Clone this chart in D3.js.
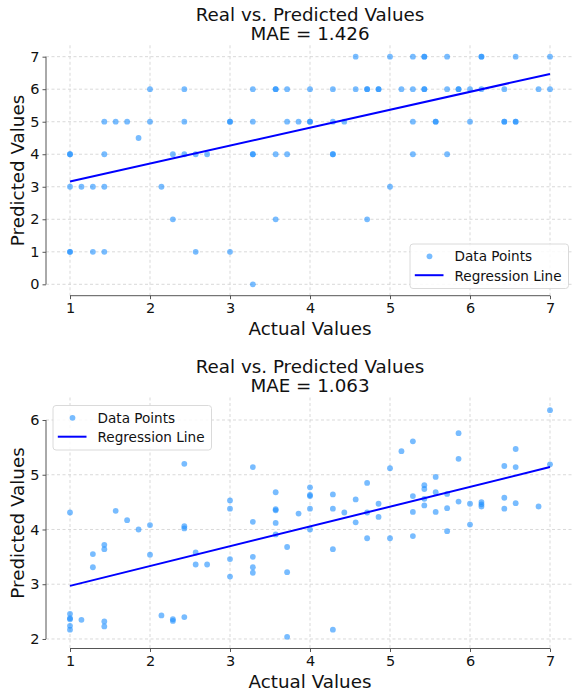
<!DOCTYPE html>
<html>
<head>
<meta charset="utf-8">
<script src="https://cdn.jsdelivr.net/npm/d3@7"></script>
<style>
  html, body { margin: 0; padding: 0; background: #fff; }
  svg { display: block; font-family: "DejaVu Sans", sans-serif; }
</style>
</head>
<body>
<svg id="chart" width="574" height="698"></svg>
<script>
// ---------- DATA ----------
const xTicks = [1, 2, 3, 4, 5, 6, 7];
const yTicksTop = [0, 1, 2, 3, 4, 5, 6, 7];
const yTicksBottom = [2, 3, 4, 5, 6];

const titleText = "Real vs. Predicted Values";
const maeTop = "MAE = 1.426";
const maeBottom = "MAE = 1.063";
const xLabel = "Actual Values";
const yLabel = "Predicted Values";
const legendLabels = ["Data Points", "Regression Line"];

// Top panel: actual values and predicted values (paired)
const actualTop = [
  1.000, 1.000, 1.000, 1.000, 1.000,
  1.143,
  1.286, 1.286,
  1.429, 1.429, 1.429, 1.429,
  1.571, 1.714, 1.857,
  2.000, 2.000,
  2.143,
  2.286, 2.286,
  2.429, 2.429, 2.429,
  2.571, 2.571,
  2.714,
  3.000, 3.000, 3.000,
  3.286, 3.286, 3.286, 3.286, 3.286,
  3.571, 3.571, 3.571, 3.571,
  3.714, 3.714, 3.714,
  3.857,
  4.000, 4.000, 4.000,
  4.286, 4.286, 4.286, 4.286,
  4.429,
  4.571, 4.571,
  4.714, 4.714, 4.714,
  4.857, 4.857,
  5.000, 5.000,
  5.143,
  5.286, 5.286, 5.286, 5.286,
  5.429, 5.429, 5.429, 5.429,
  5.571, 5.571,
  5.714, 5.714, 5.714,
  5.857, 5.857,
  6.000, 6.000,
  6.143, 6.143, 6.143,
  6.429, 6.429, 6.429,
  6.571, 6.571, 6.571,
  6.857,
  7.000, 7.000
];
const predictedTop = [
  4, 4, 3, 1, 1,
  3,
  3, 1,
  5, 4, 3, 1,
  5, 5, 4.5,
  6, 5,
  3,
  4, 2,
  6, 5, 4,
  4, 1,
  4,
  5, 5, 1,
  6, 5, 4, 4, 0,
  6, 6, 4, 2,
  6, 5, 4,
  5,
  6, 5, 5,
  6, 5, 4, 4,
  5,
  7, 6,
  6, 6, 2,
  6, 6,
  7, 3,
  6,
  7, 6, 5, 4,
  7, 7, 6, 6,
  5, 5,
  7, 6, 4,
  6, 6,
  6, 5,
  7, 7, 6,
  6, 5, 5,
  7, 5, 5,
  6,
  7, 6
];

// Bottom panel
const actualBottom = [
  1.000, 1.000, 1.000, 1.000, 1.000, 1.000,
  1.143,
  1.286, 1.286,
  1.429, 1.429, 1.429, 1.429,
  1.571, 1.714, 1.857,
  2.000, 2.000,
  2.143,
  2.286, 2.286,
  2.429, 2.429, 2.429, 2.429,
  2.571, 2.571,
  2.714,
  3.000, 3.000, 3.000, 3.000,
  3.286, 3.286, 3.286, 3.286, 3.286,
  3.571, 3.571, 3.571, 3.571, 3.571,
  3.714, 3.714, 3.714,
  3.857,
  4.000, 4.000, 4.000, 4.000, 4.000,
  4.286, 4.286, 4.286, 4.286,
  4.429,
  4.571, 4.571,
  4.714, 4.714, 4.714,
  4.857, 4.857,
  5.000, 5.000,
  5.143,
  5.286, 5.286, 5.286, 5.286,
  5.429, 5.429, 5.429, 5.429,
  5.571, 5.571, 5.571,
  5.714, 5.714, 5.714,
  5.857, 5.857, 5.857,
  6.000, 6.000,
  6.143, 6.143, 6.143,
  6.429, 6.429, 6.429,
  6.571, 6.571, 6.571,
  6.857,
  7.000, 7.000
];
const predictedBottom = [
  4.31, 2.46, 2.38, 2.36, 2.24, 2.17,
  2.35,
  3.55, 3.31,
  3.72, 3.64, 2.32, 2.23,
  4.34, 4.17, 4.00,
  4.08, 3.54,
  2.43,
  2.36, 2.33,
  5.20, 4.06, 4.02, 2.40,
  3.58, 3.36,
  3.36,
  4.53, 4.38, 3.46, 3.14,
  5.14, 4.14, 3.50, 3.31, 3.21,
  4.68, 4.37, 4.35, 4.12, 3.91,
  3.68, 3.22, 2.04,
  4.29,
  4.77, 4.63, 4.61, 4.38, 4.00,
  4.64, 4.38, 3.64, 2.17,
  4.31,
  4.55, 4.13,
  4.85, 4.31, 3.84,
  4.47, 4.23,
  5.12, 3.84,
  5.43,
  5.61, 4.61, 4.32, 3.88,
  4.81, 4.74, 4.56, 4.44,
  4.96, 4.68, 4.32,
  4.65, 4.39, 3.97,
  5.76, 5.29, 4.51,
  4.47, 4.09,
  4.50, 4.46, 4.42,
  5.16, 4.58, 4.38,
  5.47, 5.14, 4.48,
  4.42,
  6.18, 5.19
];

// Regression lines: predicted value at actual = 1 and actual = 7
const regXEnds = [1, 7];
const regTopEnds = [3.16, 6.47];
const regBottomEnds = [2.97, 5.14];

// ---------- DRAW ----------
const svg = d3.select("#chart");
const pointColor = "#1e90ff";

function drawPanel(o) {
  const g = svg.append("g");
  const x = d3.scaleLinear().domain([0.7, 7.3]).range([o.left, o.right]);
  const y = d3.scaleLinear().domain(o.yDomain).range([o.bottom, o.top]);

  // grid
  g.append("g").selectAll("line.vg").data(xTicks).join("line")
    .attr("x1", d => x(d)).attr("x2", d => x(d))
    .attr("y1", o.top).attr("y2", o.bottom)
    .attr("stroke", "#cfcfcf").attr("stroke-width", 0.8)
    .attr("stroke-dasharray", "3,2.5");
  g.append("g").selectAll("line.hg").data(o.yTicks).join("line")
    .attr("x1", o.left).attr("x2", o.right)
    .attr("y1", d => y(d)).attr("y2", d => y(d))
    .attr("stroke", "#cfcfcf").attr("stroke-width", 0.8)
    .attr("stroke-dasharray", "3,2.5");

  // axes (trimmed spines)
  const xAxis = d3.axisBottom(x).tickValues(xTicks).tickSize(3.5).tickPadding(4)
    .tickFormat(d3.format("d"));
  const gx = g.append("g").attr("transform", `translate(0,${o.bottom})`).call(xAxis);
  gx.select(".domain").attr("d", `M${x(xTicks[0])},0H${x(xTicks[xTicks.length - 1])}`)
    .attr("stroke", "#555").attr("stroke-width", 1);
  gx.selectAll(".tick line").attr("stroke", "#555");
  gx.selectAll(".tick text").attr("font-size", 14.5).attr("fill", "#111")
    .attr("font-family", "DejaVu Sans");

  const yAxis = d3.axisLeft(y).tickValues(o.yTicks).tickSize(3.5).tickPadding(3)
    .tickFormat(d3.format("d"));
  const gy = g.append("g").attr("transform", `translate(${o.left},0)`).call(yAxis);
  gy.select(".domain").attr("d", `M0,${y(o.yTicks[0])}V${y(o.yTicks[o.yTicks.length - 1])}`)
    .attr("stroke", "#555").attr("stroke-width", 1);
  gy.selectAll(".tick line").attr("stroke", "#555");
  gy.selectAll(".tick text").attr("font-size", 14.5).attr("fill", "#111")
    .attr("font-family", "DejaVu Sans");

  // points
  const pts = o.actual.map((a, i) => [a, o.pred[i]]);
  g.append("g").selectAll("circle").data(pts).join("circle")
    .attr("cx", d => x(d[0])).attr("cy", d => y(d[1])).attr("r", 2.9)
    .attr("fill", pointColor).attr("fill-opacity", 0.6);

  // regression line
  g.append("line")
    .attr("x1", x(regXEnds[0])).attr("y1", y(o.reg[0]))
    .attr("x2", x(regXEnds[1])).attr("y2", y(o.reg[1]))
    .attr("stroke", "#0000ff").attr("stroke-width", 2);

  // titles
  const cx = (o.left + o.right) / 2;
  g.append("text").attr("x", cx).attr("y", o.top - 24.6).attr("text-anchor", "middle")
    .attr("font-size", 18.3).attr("fill", "#111").text(titleText);
  g.append("text").attr("x", cx).attr("y", o.top - 5.3).attr("text-anchor", "middle")
    .attr("font-size", 18.3).attr("fill", "#111").text(o.mae);

  // axis labels
  g.append("text").attr("x", cx).attr("y", o.bottom + 39.5).attr("text-anchor", "middle")
    .attr("font-size", 18.3).attr("fill", "#111").text(xLabel);
  g.append("text")
    .attr("transform", `translate(${23.5},${(o.top + o.bottom) / 2}) rotate(-90)`)
    .attr("text-anchor", "middle").attr("font-size", 18.3).attr("fill", "#111").text(yLabel);

  // legend
  const lg = g.append("g").attr("transform", `translate(${o.legX},${o.legY})`);
  lg.append("rect").attr("x", 0).attr("y", 0).attr("width", 158.5).attr("height", 44.5)
    .attr("rx", 3).attr("fill", "#fff").attr("fill-opacity", 0.85)
    .attr("stroke", "#d6d6d6").attr("stroke-width", 0.9);
  lg.append("circle").attr("cx", 19.5).attr("cy", 12.3).attr("r", 2.9)
    .attr("fill", pointColor).attr("fill-opacity", 0.6);
  lg.append("line").attr("x1", 4.8).attr("x2", 33.5).attr("y1", 31.2).attr("y2", 31.2)
    .attr("stroke", "#0000ff").attr("stroke-width", 2);
  lg.append("text").attr("x", 44.5).attr("y", 17.2).attr("font-size", 13.6)
    .attr("fill", "#111").text(legendLabels[0]);
  lg.append("text").attr("x", 44.5).attr("y", 36.6).attr("font-size", 13.6)
    .attr("fill", "#111").text(legendLabels[1]);
}

drawPanel({
  left: 46, right: 574, top: 45.3, bottom: 295.7,
  yDomain: [-0.35, 7.35], yTicks: yTicksTop,
  actual: actualTop, pred: predictedTop, reg: regTopEnds, mae: maeTop,
  legX: 410, legY: 244
});

drawPanel({
  left: 46, right: 574, top: 397.5, bottom: 648.5,
  yDomain: [1.826, 6.411], yTicks: yTicksBottom,
  actual: actualBottom, pred: predictedBottom, reg: regBottomEnds, mae: maeBottom,
  legX: 53, legY: 405.5
});
</script>
</body>
</html>
